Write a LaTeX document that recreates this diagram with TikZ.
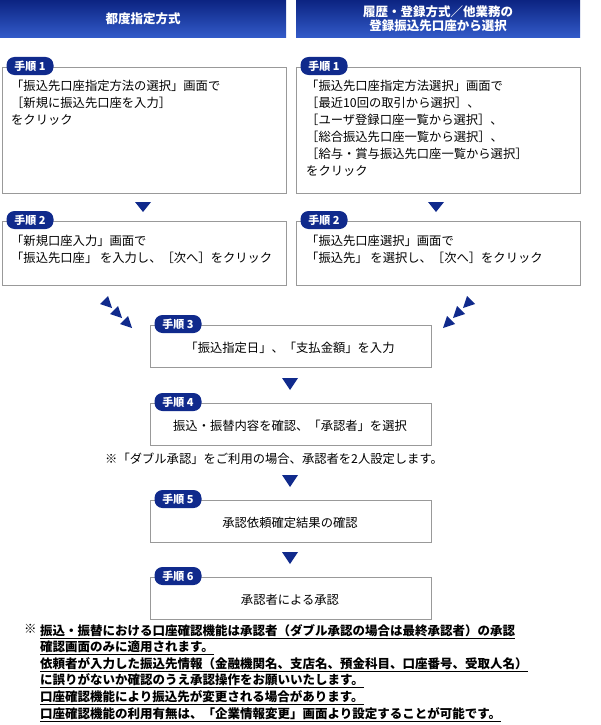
\documentclass[tikz,border=0pt]{standalone}
\usepackage{fontspec}
\setmainfont{Noto Sans CJK JP}
\usetikzlibrary{positioning}
\definecolor{navy}{RGB}{16,42,140}
\definecolor{hdtop}{RGB}{12,36,130}
\definecolor{hdbot}{RGB}{50,90,200}
\tikzset{
  header/.style={top color=hdtop, bottom color=hdbot, draw=none, minimum height=37pt,
    text=white, font=\bfseries\fontsize{12.5}{14}\selectfont, align=center},
  stepbox/.style={draw=gray!80, line width=0.7pt, fill=white},
  pill/.style={fill=navy, rounded corners=8pt, text=white, minimum width=47pt, minimum height=18pt,
    inner sep=0pt, font=\bfseries\fontsize{11}{11}\selectfont},
  downarrow/.style={fill=navy},
  body/.style={font=\fontsize{12.3}{17}\selectfont, align=left, anchor=north west, inner sep=0pt},
  note/.style={font=\bfseries\fontsize{12.5}{16.6}\selectfont, anchor=north west, inner sep=0pt}
}
\begin{document}
\begin{tikzpicture}[x=1pt,y=-1pt]
  \useasboundingbox (0,0) rectangle (600,725);
  % headers
  \node (hleft) [header, minimum width=286pt, anchor=north west] at (0,0) {都度指定方式};
  \node (hright) [header, minimum width=284pt, anchor=north west] at (296,0) {履歴・登録方式／他業務の\\登録振込先口座から選択};

  % step 1
  \draw [stepbox] (2,67) rectangle (286,193);
  \draw [stepbox] (296,67) rectangle (580,193);
  \node (l1) [pill] at (30,66) {手順 1};
  \node (r1) [pill] at (324,66) {手順 1};
  \node (tl1) [body] at (11,80) {「振込先口座指定方法の選択」画面で\\［新規に振込先口座を入力］\\をクリック};
  \node (tr1) [body] at (306,80) {「振込先口座指定方法選択」画面で\\［最近10回の取引から選択］、\\［ユーザ登録口座一覧から選択］、\\［総合振込先口座一覧から選択］、\\［給与・賞与振込先口座一覧から選択］\\をクリック};

  \fill [downarrow] (135,202) -- (151,202) -- (143,212) -- cycle;
  \fill [downarrow] (428,202) -- (444,202) -- (436,212) -- cycle;

  % step 2
  \draw [stepbox] (2,221) rectangle (286,285);
  \draw [stepbox] (296,221) rectangle (580,285);
  \node (l2) [pill] at (30,220) {手順 2};
  \node (r2) [pill] at (324,220) {手順 2};
  \node (tl2) [body] at (11,235) {「新規口座入力」画面で\\「振込先口座」 を入力し、［次へ］をクリック};
  \node (tr2) [body] at (306,235) {「振込先口座選択」画面で\\「振込先」 を選択し、［次へ］をクリック};

  % converging arrowheads
  \foreach \cx/\cy in {107/303, 117/313, 127/323}
    \fill [downarrow] (\cx+5,\cy+5) -- (\cx+1,\cy-7) -- (\cx-7,\cy+1) -- cycle;
  \foreach \cx/\cy in {468/303, 458/313, 448/323}
    \fill [downarrow] (\cx-5,\cy+5) -- (\cx-1,\cy-7) -- (\cx+7,\cy+1) -- cycle;

  % centre steps
  \foreach \y/\n/\t in {325/3/「振込指定日」、「支払金額」を入力,
                         403/4/振込・振替内容を確認、「承認者」を選択,
                         500/5/承認依頼確定結果の確認,
                         577/6/承認者による承認} {
    \draw [stepbox] (150,\y) rectangle (431,\y+42);
    \node (s\n) [pill] at (178,\y-1) {手順 \n};
    \node (t\n) [font=\fontsize{12.3}{13}\selectfont] at (290,\y+23) {\t};
  }
  \fill [downarrow] (282,378) -- (298,378) -- (290,390) -- cycle;
  \fill [downarrow] (282,475) -- (298,475) -- (290,487) -- cycle;
  \fill [downarrow] (282,552) -- (298,552) -- (290,564) -- cycle;

  \node (dbl) [font=\fontsize{12.3}{13}\selectfont, anchor=west, inner sep=0pt] at (105,459) {※「ダブル承認」をご利用の場合、承認者を2人設定します。};

  % notes
  \node (mark) [note] at (24,624) {※};
  \node (notes) [note, align=left] at (40,624) {\underline{振込・振替における口座確認機能は承認者（ダブル承認の場合は最終承認者）の承認}\\
\underline{確認画面のみに適用されます。}\\
\underline{依頼者が入力した振込先情報（金融機関名、支店名、預金科目、口座番号、受取人名）}\\
\underline{に誤りがないか確認のうえ承認操作をお願いいたします。}\\
\underline{口座確認機能により振込先が変更される場合があります。}\\
\underline{口座確認機能の利用有無は、「企業情報変更」画面より設定することが可能です。}};
\end{tikzpicture}
\end{document}
